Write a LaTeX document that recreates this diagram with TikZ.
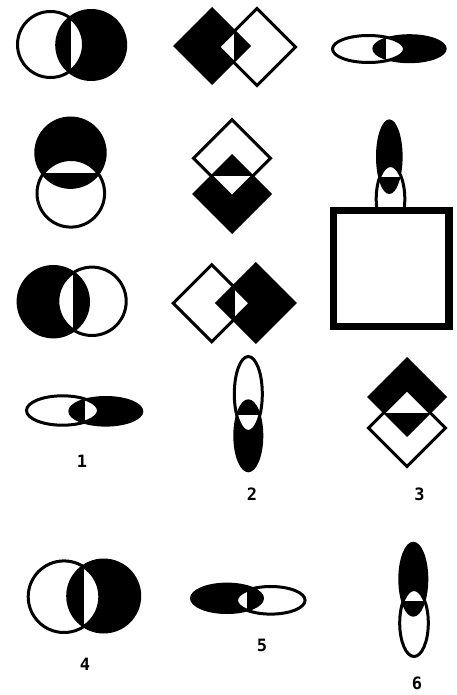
\documentclass[tikz,border=0pt]{standalone}
\usepackage{fontspec}
\newfontfamily\labfont{DejaVu Sans Mono}
\tikzset{
  outl/.style={draw=black, line width=3pt},
  lab/.style={font=\labfont\bfseries\fontsize{17}{20}\selectfont, inner sep=0pt},
  sq/.style={draw=black, fill=white, line width=7.3pt}
}
\newcommand\dia[3]{(#1-#3,#2) -- (#1,#2-#3) -- (#1+#3,#2) -- (#1,#2+#3) -- cycle}
% #1 outline shape A, #2 filled shape B, #3 white region beyond the chord (towards B)
\newcommand\pairfig[3]{%
  \fill[black] #2;
  \begin{scope}
    \clip #1;
    \fill[white] #3;
  \end{scope}
  \draw[outl] #1;
}
\begin{document}
\begin{tikzpicture}[x=1pt,y=-1pt]
\useasboundingbox[fill=white] (0,0) rectangle (457,695);
% row 1
\pairfig{(50.5,44.5) circle[radius=33pt]}{(91.2,45) circle[radius=36pt]}{(71,0) rectangle (150,100)}
\pairfig{\dia{257}{47}{38.5}}{\dia{212}{46}{39}}{(234,0) rectangle (160,100)}
\pairfig{(368.5,49) ellipse[x radius=36pt, y radius=13.5pt]}{(409.5,48.7) ellipse[x radius=37.2pt, y radius=14.5pt]}{(386,0) rectangle (457,100)}
% row 2
\pairfig{(70.8,193.3) circle[radius=33.8pt]}{(70.5,152.7) circle[radius=36.2pt]}{(0,173) rectangle (150,100)}
\pairfig{\dia{232}{158.3}{38.5}}{\dia{232}{194}{40}}{(150,176) rectangle (310,260)}
\pairfig{(390.5,199) ellipse[x radius=14.3pt, y radius=33.5pt]}{(389.3,156.7) ellipse[x radius=13.3pt, y radius=37.3pt]}{(340,177.3) rectangle (440,100)}
\draw[sq] (333.7,210.3) rectangle (449,326.3);
% row 3
\pairfig{(92,301.3) circle[radius=34.2pt]}{(53.3,301.7) circle[radius=36.7pt]}{(73,240) rectangle (0,360)}
\pairfig{\dia{211.7}{303.3}{38.5}}{\dia{255.8}{303}{41}}{(235,240) rectangle (310,360)}
% row 4
\pairfig{(62.5,410.5) ellipse[x radius=36pt, y radius=14.7pt]}{(105.8,411.3) ellipse[x radius=37.5pt, y radius=15.3pt]}{(85,380) rectangle (160,440)}
\pairfig{(248.3,394) ellipse[x radius=14pt, y radius=37.5pt]}{(248.3,435.8) ellipse[x radius=15pt, y radius=36.5pt]}{(200,415) rectangle (300,480)}
\pairfig{\dia{407}{428}{38.5}}{\dia{407}{397}{40}}{(350,412.5) rectangle (457,340)}
% row 5
\pairfig{(64,596.7) circle[radius=35.8pt]}{(103.7,596) circle[radius=37.5pt]}{(84,550) rectangle (150,640)}
\pairfig{(270.8,600.3) ellipse[x radius=34.3pt, y radius=13.8pt]}{(227,598.3) ellipse[x radius=37pt, y radius=15.7pt]}{(247,570) rectangle (180,630)}
\pairfig{(414,623) ellipse[x radius=14.3pt, y radius=33.5pt]}{(413.3,579.2) ellipse[x radius=15pt, y radius=37.5pt]}{(380,601) rectangle (450,530)}
% labels
\node[lab] (l1) at (82,461) {1};
\node[lab] (l2) at (252,494) {2};
\node[lab] (l3) at (419.5,494) {3};
\node[lab] (l4) at (85,664.5) {4};
\node[lab] (l5) at (262,645) {5};
\node[lab] (l6) at (417,683.3) {6};
\end{tikzpicture}
\end{document}
